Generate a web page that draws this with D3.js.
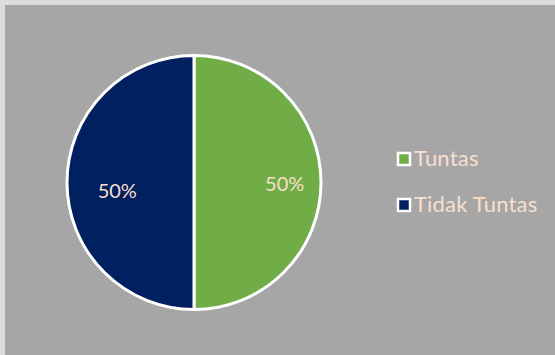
<!DOCTYPE html>
<html>
<head>
<meta charset="utf-8">
<script src="https://cdn.jsdelivr.net/npm/d3@7"></script>
<style>
	body {margin: 0; background: #ffffff;}
	svg {display: block;}
</style>
</head>
<body>
<svg width="555" height="355"></svg>
<script>
'use strict';
// chart data
let aLabels = ["Tuntas", "Tidak Tuntas"]
let aValues = [50, 50]
let aColors = ["#70ad47", "#002060"]

let eSvg = d3.select("svg"),
	dWidth = +eSvg.attr("width"),
	dHeight = +eSvg.attr("height")

let sFont = "Lato, 'Open Sans', sans-serif"
let sText = "#f8dfcd"

// frame and plot background
eSvg.append("rect")
	.attr("x", 0).attr("y", 0)
	.attr("width", dWidth).attr("height", dHeight)
	.attr("fill", "#dcdcdc")
eSvg.append("rect")
	.attr("x", 5).attr("y", 5)
	.attr("width", dWidth - 5).attr("height", dHeight - 5)
	.attr("fill", "#a6a6a6")

// pie
let cx = 194, cy = 182.5, r = 127
let pie = d3.pie().sort(null).value(d => d.value)
let arc = d3.arc().innerRadius(0).outerRadius(r)
let labelArc = d3.arc().innerRadius(r * 0.62).outerRadius(r * 0.62)

let tData = aLabels.map((l, i) => {return {label: l, value: aValues[i], color: aColors[i]}})
let total = d3.sum(aValues)

let eG = eSvg.append("g").attr("transform", `translate(${cx},${cy})`)
eG.selectAll("path")
	.data(pie(tData))
	.enter()
	.append("path")
	.attr("d", arc)
	.attr("fill", d => d.data.color)
	.attr("stroke", "#ffffff")
	.attr("stroke-width", 3)
	.attr("stroke-linejoin", "round")

// percentage labels
let aOffsets = [[12, 3], [2, 10]]
eG.selectAll("text")
	.data(pie(tData))
	.enter()
	.append("text")
	.attr("x", (d, i) => labelArc.centroid(d)[0] + aOffsets[i][0])
	.attr("y", (d, i) => labelArc.centroid(d)[1] + aOffsets[i][1])
	.attr("text-anchor", "middle")
	.attr("dominant-baseline", "middle")
	.attr("font-family", sFont)
	.attr("font-size", 20)
	.attr("fill", sText)
	.text(d => Math.round(d.data.value / total * 100) + "%")

// legend
let eLegend = eSvg.append("g").attr("transform", "translate(397,152)")
let eItems = eLegend.selectAll("g")
	.data(tData)
	.enter()
	.append("g")
	.attr("transform", (d, i) => `translate(0,${i * 46})`)
eItems.append("rect")
	.attr("x", 1).attr("y", 1)
	.attr("width", 12).attr("height", 12)
	.attr("fill", d => d.color)
	.attr("stroke", "#ffffff")
	.attr("stroke-width", 2.5)
eItems.append("text")
	.attr("x", 17).attr("y", 8)
	.attr("dominant-baseline", "middle")
	.attr("font-family", sFont)
	.attr("font-size", 22)
	.attr("letter-spacing", 0.2)
	.attr("fill", sText)
	.text(d => d.label)
</script>
</body>
</html>
